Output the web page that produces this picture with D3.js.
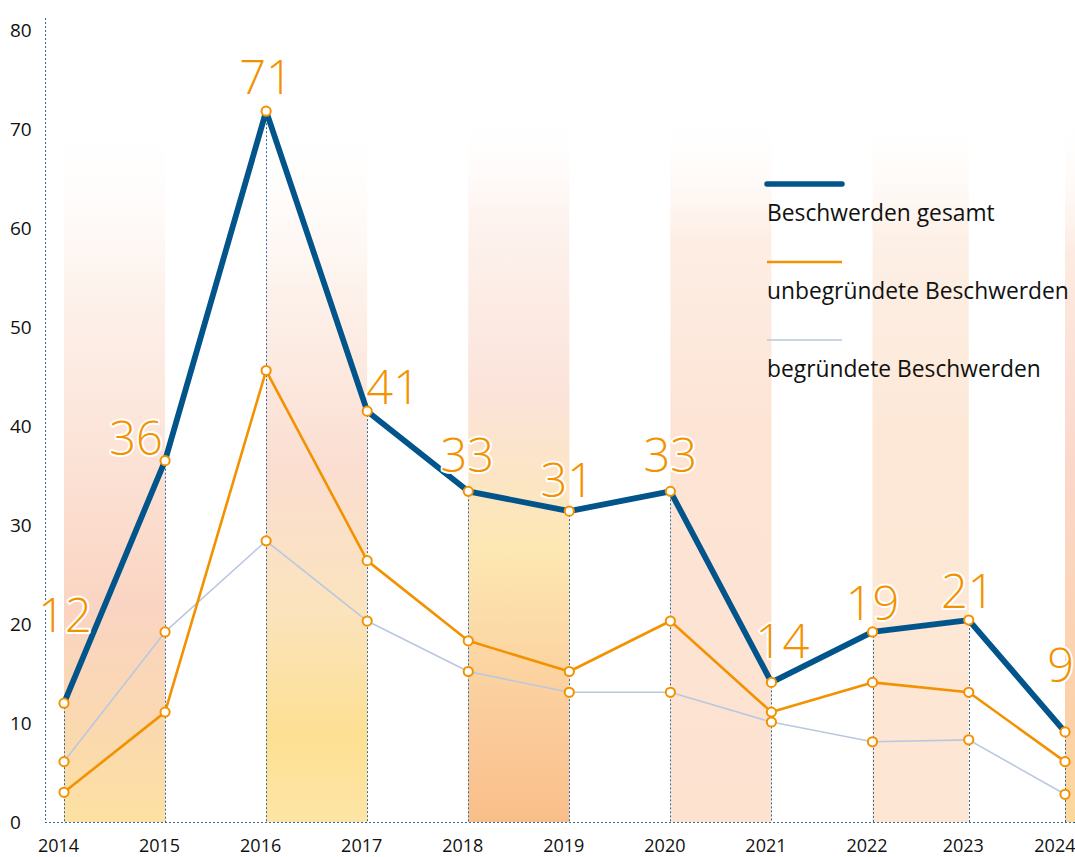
<!DOCTYPE html>
<html><head><meta charset="utf-8">
<script src="https://cdn.jsdelivr.net/npm/d3@7"></script>
<style>body{margin:0;background:#fff;overflow:hidden} svg{display:block}</style>
</head><body>
<svg id="c" width="1075" height="857"></svg>
<script>
// ---- data ----
const years = [2014, 2015, 2016, 2017, 2018, 2019, 2020, 2021, 2022, 2023, 2024];
const gesamt = [12.0, 36.5, 71.8, 41.5, 33.4, 31.4, 33.4, 14.1, 19.2, 20.4, 9.1];
const unbegruendet = [3.0, 11.1, 45.6, 26.4, 18.3, 15.2, 20.3, 11.1, 14.1, 13.1, 6.1];
const begruendet = [6.1, 19.2, 28.4, 20.3, 15.2, 13.1, 13.1, 10.1, 8.1, 8.3, 2.8];
const valueLabels = ["12", "36", "71", "41", "33", "31", "33", "14", "19", "21", "9"];
const yTicks = [0, 10, 20, 30, 40, 50, 60, 70, 80];
const seriesNames = ["Beschwerden gesamt", "unbegründete Beschwerden", "begründete Beschwerden"];

// ---- layout / style ----
const W = 1075, H = 857;
const FONT = "'Open Sans', 'Noto Sans', sans-serif";
const BLUE = "#02558b", ORANGE = "#f39200", LIGHT = "#b9c8e0", DASH = "#2f6a98";
const labelShift = [[1,-71],[-29,-6],[0,-17],[26,-7],[-1,-19],[-2,-14],[0,-19],[11,-24],[0,-12],[-1,-12],[4,-50]];

const svg = d3.select("#c");
const y = d3.scaleLinear().domain([0, 80]).range([822, 30]);
const x = d3.scaleLinear().domain([2014, 2022, 2024]).range([64, 872.5, 1065]);

// ---- background bands ----
const bandDefs = [
  [[0,"#ffffff",0],[0.25,"#fdf2ec",1],[0.45,"#fce5da",1],[0.7,"#fad4c2",1],[0.88,"#fbd9ae",1],[1,"#fde1a2",1]],
  [[0,"#ffffff",0],[0.25,"#fdf2eb",1],[0.5,"#fbded1",1],[0.7,"#fbe3bd",1],[0.88,"#fde092",1],[1,"#fde5a6",1]],
  [[0,"#ffffff",0],[0.15,"#fdf3ef",1],[0.4,"#fbe3d9",1],[0.62,"#fde7b2",1],[0.85,"#fbcc9b",1],[1,"#f9bf8a",1]],
  [[0,"#ffffff",0],[0.18,"#fdeee4",1],[0.45,"#fde4d5",1],[1,"#fde2d0",1]],
  [[0,"#ffffff",0],[0.18,"#fdf0e6",1],[0.45,"#fde8d7",1],[1,"#fde6d3",1]],
  [[0,"#ffffff",0],[0.2,"#fdebe2",1],[0.5,"#fbd7ca",1],[0.85,"#fbd1a8",1],[1,"#fcd89c",1]]
];
const defs = svg.append("defs");
const bandYears = years.filter((d, i) => i % 2 === 0);
bandYears.forEach((yr, i) => {
  const g = defs.append("linearGradient").attr("id", "band" + i)
    .attr("gradientUnits", "userSpaceOnUse").attr("x1", 0).attr("x2", 0).attr("y1", 110).attr("y2", 822);
  bandDefs[i].forEach(s => g.append("stop").attr("offset", s[0]).attr("stop-color", s[1]).attr("stop-opacity", s[2]));
});
svg.append("g").selectAll("rect").data(bandYears).join("rect")
  .attr("x", d => x(d))
  .attr("width", d => (d + 1 <= 2024 ? x(d + 1) : W) - x(d))
  .attr("y", 110).attr("height", 822 - 110)
  .attr("fill", (d, i) => `url(#band${i})`);

// ---- dashed guides ----
const guides = svg.append("g").attr("stroke", DASH).attr("stroke-width", 1).attr("stroke-dasharray", "2,2").attr("fill", "none");
guides.append("line").attr("x1", 45.5).attr("x2", 45.5).attr("y1", 18).attr("y2", y(0));
guides.append("line").attr("x1", 45).attr("x2", W).attr("y1", y(0) + 0.5).attr("y2", y(0) + 0.5);
guides.selectAll("line.v").data(years).join("line").attr("class", "v")
  .attr("x1", d => Math.round(x(d)) + 0.5).attr("x2", d => Math.round(x(d)) + 0.5)
  .attr("y1", (d, i) => y(gesamt[i])).attr("y2", y(0));

// ---- axes ----
const ya = svg.append("g").attr("transform", "translate(45,0)")
  .call(d3.axisLeft(y).tickValues(yTicks).tickSize(0).tickFormat(d3.format("d")));
ya.select(".domain").remove();
ya.selectAll("text").attr("x", -35).attr("text-anchor", "start").attr("dy", "0.35em")
  .style("font-family", FONT).style("font-size", "19px").attr("fill", "#111");

const xa = svg.append("g").attr("transform", `translate(0,${y(0)})`)
  .call(d3.axisBottom(x).tickValues(years).tickSize(0).tickFormat(d3.format("d")));
xa.select(".domain").remove();
xa.selectAll("text").attr("y", 30).attr("dy", null).attr("dx", -6)
  .style("font-family", FONT).style("font-size", "18px").attr("fill", "#111")
  .each(function(d) {
    const w = this.getComputedTextLength();
    const cx = x(d) - 6;
    if (cx + w / 2 > W) d3.select(this).attr("dx", W - w / 2 - x(d));
  });

// ---- lines ----
const line = d3.line().x((d, i) => x(years[i])).y(d => y(d));
const series = [
  {vals: begruendet, color: LIGHT, w: 1.6},
  {vals: unbegruendet, color: ORANGE, w: 2.6},
  {vals: gesamt, color: BLUE, w: 5.8}
];
svg.append("g").selectAll("path").data(series).join("path")
  .attr("d", d => line(d.vals)).attr("fill", "none")
  .attr("stroke", d => d.color).attr("stroke-width", d => d.w).attr("stroke-linejoin", "round");

// ---- markers ----
svg.append("g").selectAll("g").data(series).join("g")
  .selectAll("circle").data(d => d.vals).join("circle")
  .attr("cx", (d, i) => x(years[i])).attr("cy", d => y(d)).attr("r", 4.6)
  .attr("fill", "#fff").attr("stroke", ORANGE).attr("stroke-width", 2);

// ---- value labels ----
svg.append("g").selectAll("text").data(valueLabels).join("text")
  .attr("x", (d, i) => x(years[i]) + labelShift[i][0])
  .attr("y", (d, i) => y(gesamt[i]) + labelShift[i][1])
  .attr("text-anchor", "middle")
  .style("font-family", FONT).style("font-size", "47px").style("font-weight", 300)
  .attr("fill", ORANGE).attr("stroke", "#fff").attr("stroke-width", 4)
  .attr("paint-order", "stroke").attr("stroke-linejoin", "round")
  .text(d => d)
  .each(function() {
    // keep labels inside the picture
    const b = this.getBBox();
    if (b.x + b.width > W - 1) d3.select(this).attr("x", +d3.select(this).attr("x") - (b.x + b.width - (W - 1)));
  });

// ---- legend ----
const legendStyles = [
  {color: BLUE, w: 5.5},
  {color: ORANGE, w: 2.6},
  {color: LIGHT, w: 1.6}
];
const lg = svg.append("g").attr("transform", "translate(767,184)");
const li = lg.selectAll("g").data(seriesNames).join("g").attr("transform", (d, i) => `translate(0,${i * 78})`);
li.append("line").attr("x1", 0).attr("x2", 75).attr("y1", 0).attr("y2", 0)
  .attr("stroke", (d, i) => legendStyles[i].color).attr("stroke-width", (d, i) => legendStyles[i].w)
  .attr("stroke-linecap", (d, i) => i === 0 ? "round" : "butt");
li.append("text").attr("x", 0).attr("y", 37)
  .style("font-family", FONT).style("font-size", "22.8px").attr("fill", "#111")
  .text(d => d);
</script>
</body></html>
